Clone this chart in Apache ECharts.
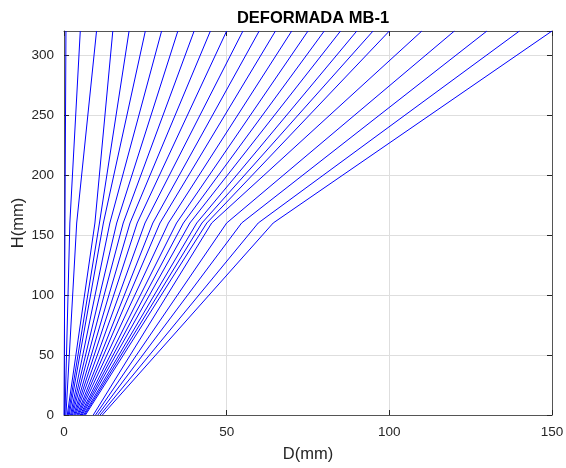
<!DOCTYPE html>
<html>
<head>
<meta charset="utf-8">
<script src="https://cdn.jsdelivr.net/npm/echarts@6/dist/echarts.min.js"></script>
<style>
  html, body { margin: 0; padding: 0; background: #ffffff; }
  #chart { width: 566px; height: 468px; }
</style>
</head>
<body>
<div id="chart"></div>
<script>
// Heights of the three control levels (mm)
const levels = [0, 160, 320];

// Horizontal displacement (mm) of each deformed shape at base, mid-height and top
const baseD = [0, 0.3, 0.6, 1.0, 1.3, 1.6, 2.0, 2.3, 2.6, 3.0, 3.3, 3.6, 4.0, 4.3, 4.6, 5.0, 5.3, 5.6, 6.0, 6.3, 6.6,
               9.0, 9.7, 10.4, 11.1, 11.8];
const midD  = [0.3, 1.8, 3.9, 9.5, 10.9, 12.1, 14.1, 16.2, 18.2, 20.3, 22.5, 24.9, 27.3, 29.5, 32.1, 34.6, 36.7, 38.7, 40.8, 42.4, 43.9,
               45.4, 50.0, 54.6, 59.7, 64.3];
const topD  = [0.6, 5, 10, 15, 20, 25, 30, 35, 40, 45, 50, 55, 60, 65, 70, 75, 80, 85, 90, 95, 100,
               110, 120, 130, 140, 150];

const xTicks = { min: 0, max: 150, interval: 50 };
const yTicks = { min: 0, max: 320, interval: 50 };

const series = topD.map((t, i) => ({
  type: 'line',
  xAxisIndex: 0,
  yAxisIndex: 0,
  showSymbol: false,
  symbol: 'none',
  silent: true,
  lineStyle: { color: '#0000ff', width: 1 },
  data: [[baseD[i], levels[0]], [midD[i], levels[1]], [t, levels[2]]]
}));

const axisCol = '#262626';
const frameCol = '#555555';
const gridCol = '#dedede';
const font = 'Liberation Sans, Arial, Helvetica, sans-serif';

const chart = echarts.init(document.getElementById('chart'), null, { renderer: 'canvas' });
chart.setOption({
  animation: false,
  backgroundColor: '#ffffff',
  title: {
    text: 'DEFORMADA MB-1',
    left: 308,
    top: 5,
    textAlign: 'center',
    textStyle: { fontFamily: font, fontSize: 16.5, fontWeight: 'bold', color: '#000000' }
  },
  grid: { left: 64, right: 14, top: 31, bottom: 53, containLabel: false, outerBoundsMode: 'none' },
  xAxis: [
    {
      type: 'value', position: 'bottom', min: xTicks.min, max: xTicks.max, interval: xTicks.interval,
      name: 'D(mm)', nameLocation: 'middle', nameGap: 31, nameMoveOverlap: false,
      nameTextStyle: { fontFamily: font, fontSize: 16.5, color: axisCol },
      axisLine: { show: true, onZero: false, lineStyle: { color: frameCol, width: 1 } },
      axisTick: { show: true, inside: true, length: 5, lineStyle: { color: axisCol, width: 1 } },
      axisLabel: { fontFamily: font, fontSize: 13.5, color: axisCol, margin: 10 },
      splitLine: { show: true, lineStyle: { color: gridCol, width: 1 } }
    },
    {
      type: 'value', position: 'top', min: xTicks.min, max: xTicks.max, interval: xTicks.interval,
      axisLine: { show: true, onZero: false, lineStyle: { color: frameCol, width: 1 } },
      axisTick: { show: true, inside: true, length: 5, lineStyle: { color: axisCol, width: 1 } },
      axisLabel: { show: false },
      splitLine: { show: false }
    }
  ],
  yAxis: [
    {
      type: 'value', position: 'left', min: yTicks.min, max: yTicks.max, interval: yTicks.interval,
      name: 'H(mm)', nameLocation: 'middle', nameGap: 37, nameRotate: 90, nameMoveOverlap: false,
      nameTextStyle: { fontFamily: font, fontSize: 16.5, color: axisCol },
      axisLine: { show: true, onZero: false, lineStyle: { color: frameCol, width: 1 } },
      axisTick: { show: true, inside: true, length: 5, lineStyle: { color: axisCol, width: 1 } },
      axisLabel: { fontFamily: font, fontSize: 13.5, color: axisCol, margin: 10, showMaxLabel: false },
      splitLine: { show: true, lineStyle: { color: gridCol, width: 1 } }
    },
    {
      type: 'value', position: 'right', min: yTicks.min, max: yTicks.max, interval: yTicks.interval,
      axisLine: { show: true, onZero: false, lineStyle: { color: frameCol, width: 1 } },
      axisTick: { show: true, inside: true, length: 5, lineStyle: { color: axisCol, width: 1 } },
      axisLabel: { show: false },
      splitLine: { show: false }
    }
  ],
  series: series
});
</script>
</body>
</html>
